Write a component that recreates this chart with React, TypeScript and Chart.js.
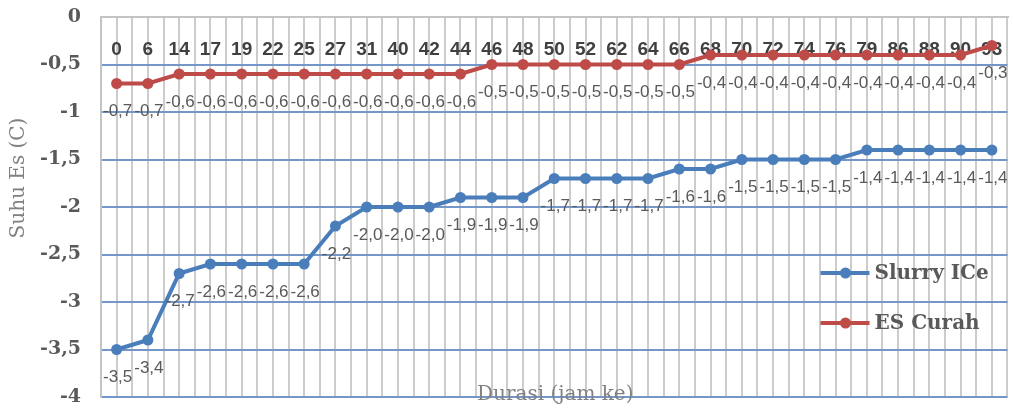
import { useEffect, useRef } from 'react';
import { Chart, registerables } from 'chart.js';

Chart.register(...registerables);

const categories = ['0', '6', '14', '17', '19', '22', '25', '27', '31', '40', '42', '44', '46', '48', '50', '52', '62', '64', '66', '68', '70', '72', '74', '76', '79', '86', '88', '90', '93'];
const slurryIce = [-3.5, -3.4, -2.7, -2.6, -2.6, -2.6, -2.6, -2.2, -2.0, -2.0, -2.0, -1.9, -1.9, -1.9, -1.7, -1.7, -1.7, -1.7, -1.6, -1.6, -1.5, -1.5, -1.5, -1.5, -1.4, -1.4, -1.4, -1.4, -1.4];
const esCurah = [-0.7, -0.7, -0.6, -0.6, -0.6, -0.6, -0.6, -0.6, -0.6, -0.6, -0.6, -0.6, -0.5, -0.5, -0.5, -0.5, -0.5, -0.5, -0.5, -0.4, -0.4, -0.4, -0.4, -0.4, -0.4, -0.4, -0.4, -0.4, -0.3];
const seriesNames = ['Slurry ICe', 'ES Curah'];
const seriesColors = ['#4a7ebb', '#be4b48'];
const yTitle = 'Suhu Es (C)';
const xTitle = 'Durasi (jam ke)';

const fmtComma = (v: number, digits: number) => v.toFixed(digits).replace('.', ',');
const fmtTick = (v: number) => {
  const r = Math.round(v * 10) / 10;
  return String(r).replace('.', ',');
};

const overlayPlugin = {
  id: 'overlay',
  beforeDatasetsDraw(chart: any) {
    const ctx = chart.ctx;
    const xs = chart.scales.x;
    const area = chart.chartArea;
    ctx.save();
    ctx.font = 'bold 19px "Liberation Sans", Arial, sans-serif';
    ctx.fillStyle = '#404040';
    ctx.textAlign = 'center';
    ctx.textBaseline = 'middle';
    categories.forEach((c, i) => {
      ctx.fillText(c, xs.getPixelForValue(i), area.top + 33);
    });
    ctx.restore();
  },
  afterDatasetsDraw(chart: any) {
    const ctx = chart.ctx;
    const area = chart.chartArea;
    ctx.save();
    // data labels
    ctx.font = '17px "Liberation Sans", Arial, sans-serif';
    ctx.fillStyle = '#595959';
    ctx.textAlign = 'center';
    ctx.textBaseline = 'middle';
    chart.data.datasets.forEach((ds: any, di: number) => {
      const meta = chart.getDatasetMeta(di);
      meta.data.forEach((pt: any, i: number) => {
        ctx.fillText(fmtComma(ds.data[i], 1), pt.x + 1, pt.y + 28);
      });
    });
    // legend
    const lx = area.right - 187;
    const ly = area.top + 256;
    seriesNames.forEach((name, i) => {
      const y = ly + i * 50;
      ctx.strokeStyle = seriesColors[i];
      ctx.lineWidth = 4;
      ctx.beginPath();
      ctx.moveTo(lx, y);
      ctx.lineTo(lx + 49, y);
      ctx.stroke();
      ctx.fillStyle = seriesColors[i];
      ctx.beginPath();
      ctx.arc(lx + 25, y, 5.5, 0, Math.PI * 2);
      ctx.fill();
      ctx.fillStyle = '#595959';
      ctx.font = 'bold 20px "DejaVu Serif", serif';
      ctx.textAlign = 'left';
      ctx.textBaseline = 'middle';
      ctx.fillText(name, lx + 54, y + 1);
    });
    // axis titles
    ctx.fillStyle = '#808080';
    ctx.font = '20px "DejaVu Serif", serif';
    ctx.textAlign = 'center';
    ctx.textBaseline = 'middle';
    ctx.fillText(xTitle, (area.left + area.right) / 2 + 1, area.bottom - 2);
    ctx.save();
    ctx.translate(19, area.top + 161);
    ctx.rotate(-Math.PI / 2);
    ctx.fillText(yTitle, 0, 0);
    ctx.restore();
    ctx.restore();
  },
};

export default function App() {
  const ref = useRef<HTMLCanvasElement | null>(null);
  useEffect(() => {
    if (!ref.current) return;
    const chart = new Chart(ref.current, {
      type: 'line',
      data: {
        labels: categories,
        datasets: [
          {
            label: seriesNames[0],
            data: slurryIce,
            borderColor: seriesColors[0],
            backgroundColor: seriesColors[0],
            borderWidth: 4,
            pointRadius: 5.5,
            pointBorderWidth: 0,
            pointBackgroundColor: seriesColors[0],
            tension: 0,
            xAxisID: 'x',
            yAxisID: 'y',
          },
          {
            label: seriesNames[1],
            data: esCurah,
            borderColor: seriesColors[1],
            backgroundColor: seriesColors[1],
            borderWidth: 4,
            pointRadius: 5.5,
            pointBorderWidth: 0,
            pointBackgroundColor: seriesColors[1],
            tension: 0,
            xAxisID: 'x',
            yAxisID: 'y',
          },
        ],
      },
      options: {
        responsive: false,
        animation: false,
        layout: { padding: { left: 0, top: 17, right: 3, bottom: 13 } },
        plugins: {
          legend: { display: false },
          tooltip: { enabled: false },
        },
        scales: {
          x: {
            type: 'category',
            position: 'top',
            offset: true,
            ticks: { display: false },
            grid: { offset: true, color: '#cccccc', lineWidth: 2, drawTicks: false },
            border: { display: true, color: '#c4c4c4', width: 2 },
            afterFit: (s: any) => { s.height = 0; },
          },
          x2: {
            type: 'category',
            position: 'top',
            offset: true,
            labels: categories,
            ticks: { display: false },
            grid: { offset: false, color: '#cccccc', lineWidth: 2, drawTicks: false },
            border: { display: false },
            afterFit: (s: any) => { s.height = 0; },
          },
          y: {
            min: -4,
            max: 0,
            ticks: {
              stepSize: 0.5,
              padding: 20,
              color: '#595959',
              font: { family: '"DejaVu Serif", serif', weight: 'bold', size: 19 },
              callback: (v: any) => fmtTick(Number(v)),
            },
            grid: {
              color: (c: any) => (c.tick && c.tick.value === 0 ? '#c4c4c4' : '#7596c8'),
              lineWidth: 2,
              drawTicks: false,
            },
            border: { display: true, color: '#c4c4c4', width: 2 },
            afterFit: (s: any) => {
              s.width = 101;
              s.paddingTop = 0;
              s.paddingBottom = 0;
            },
          },
        },
      } as any,
      plugins: [overlayPlugin],
    });
    return () => chart.destroy();
  }, []);
  return (
    <div style={{ position: 'absolute', left: 0, top: 0, width: 1013, height: 410, background: '#fff' }}>
      <canvas ref={ref} width={1013} height={410} style={{ display: 'block' }} />
    </div>
  );
}
